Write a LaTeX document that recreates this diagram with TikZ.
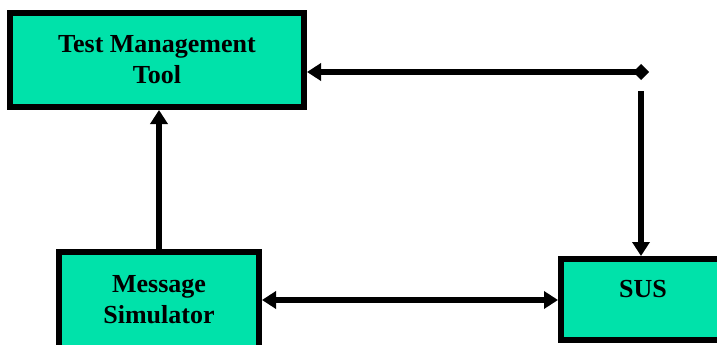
\documentclass[tikz,border=0pt]{standalone}
\usepackage{fontspec}
\setmainfont{Liberation Serif}
\usepackage{tikz}
\usetikzlibrary{
  arrows.meta,
  positioning,
  calc
}
\definecolor{boxgreen}{RGB}{0,226,170}

\begin{document}
\begin{tikzpicture}[
    x=1pt,
    y=-1pt,
    >={Triangle[length=14pt,width=17pt]},
    box/.style={draw,line width=6pt,fill=boxgreen,align=center,
      font=\fontsize{26}{31}\selectfont\bfseries,inner sep=0pt},
    link/.style={line width=6pt}
    ]

    \useasboundingbox (0,0) rectangle (717,345);
    \clip (0,0) rectangle (717,345);

    \node[box,minimum width=294pt,minimum height=94pt] (tmt) at (157,60)
    {Test Management\\Tool};

    \node[box,minimum width=200pt,minimum height=96pt] (ms) at (159,300)
    {Message\\Simulator};

    \node[box,minimum width=160pt,minimum height=81pt] (sus) at (641,299.5) {};
    \node[font=\fontsize{26}{31}\selectfont\bfseries,anchor=base] (suslbl)
    at ($(sus.north)+(2,41)$) {SUS};

    \coordinate (corner) at (649,72);
    \coordinate (drop) at (641,91);

    \draw[link,->] (ms.north) -- (ms.north |- tmt.south);

    \draw[link,{Triangle[length=14pt,width=17pt]}-{Diamond[length=16pt,width=16pt]}]
    (tmt.east |- corner) -- (corner);

    \draw[link,->] (drop) -- (sus.north);

    \draw[link,<->] (ms.east) -- (ms.east -| sus.west);

\end{tikzpicture}
\end{document}
